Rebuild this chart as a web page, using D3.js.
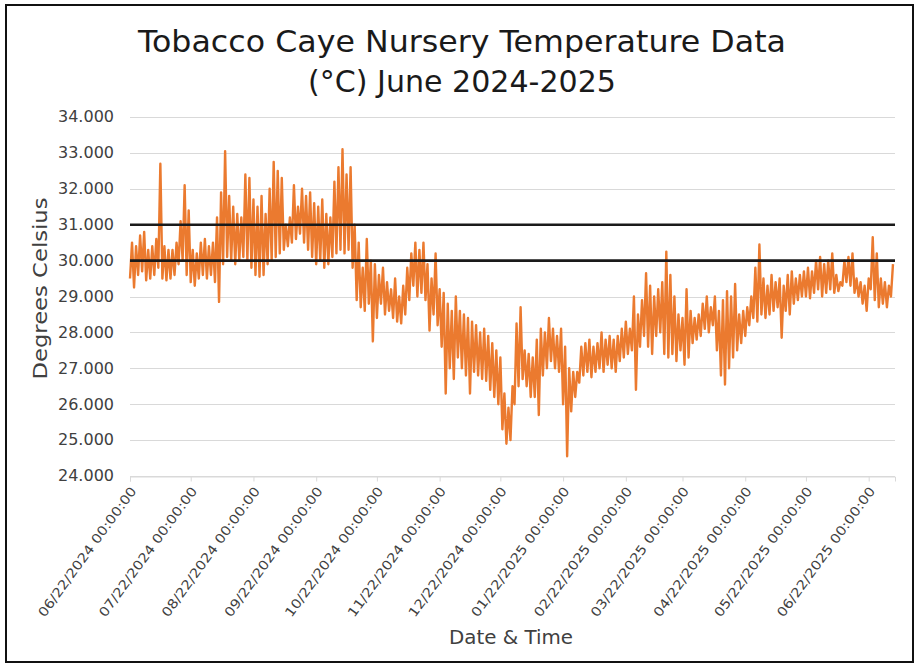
<!DOCTYPE html>
<html>
<head>
<meta charset="utf-8">
<script src="https://cdn.jsdelivr.net/npm/d3@7"></script>
<style>
  body { margin: 0; background: #fff; }
  svg text { font-family: "DejaVu Sans", "Noto Sans", sans-serif; }
</style>
</head>
<body>
<svg id="chart" width="919" height="666"></svg>
<script>
// Logger record: one low and one high reading per two-day block, from 22 Jun 2024
const startDate = "2024-06-22";
const endDate = "2025-07-05";

const lows = [
  29.5, 29.25, 29.6, 29.7, 29.45, 29.5, 29.6, 29.8, 29.5, 29.45,
  29.5, 29.6, 29.9, 30.0, 29.6, 29.4, 29.3, 29.5, 29.6, 29.5,
  29.6, 29.4, 28.85, 29.9, 30.1, 30.0, 29.9, 30.0, 30.1, 30.0,
  29.8, 29.6, 29.55, 29.6, 29.9, 30.0, 30.1, 30.2, 30.3, 30.4,
  30.5, 30.6, 30.75, 30.5, 30.3, 30.1, 29.9, 30.0, 29.8, 29.9,
  30.1, 30.2, 30.3, 30.2, 30.3, 29.8, 28.9, 28.7, 28.6, 28.8,
  27.75, 28.4, 28.8, 28.5, 28.6, 28.4, 28.3, 28.25, 28.5, 28.9,
  29.3, 29.0, 29.1, 28.9, 28.05, 28.5, 28.2, 27.6, 26.3, 27.0,
  26.7, 27.3, 27.0, 26.8, 26.3, 26.9, 26.8, 26.7, 26.65, 26.4,
  26.2, 26.0, 25.3, 24.9, 25.0, 26.0, 26.5, 26.7, 26.5, 26.2,
  26.2, 25.7, 26.8, 27.0, 27.2, 27.0, 26.9, 26.0, 24.55, 25.8,
  26.2, 26.6, 26.8, 26.9, 26.75, 26.9, 27.0, 26.9, 27.1, 27.0,
  26.9, 27.2, 27.3, 27.4, 27.5, 26.4, 27.6, 27.9, 27.6, 27.4,
  27.9, 28.0, 27.4, 27.3, 27.4, 27.2, 27.5, 27.1, 27.3, 27.7,
  27.8, 27.9, 28.1, 28.0, 28.2, 27.5, 26.8, 26.55, 27.0, 27.3,
  27.5, 27.7, 27.9, 28.2, 28.4, 28.3, 28.5, 28.4, 28.5, 28.6,
  28.7, 27.85, 28.6, 28.5, 28.8, 28.9, 29.0, 29.0, 28.95, 29.1,
  29.2, 29.0, 29.1, 29.2, 29.1, 29.15, 29.3, 29.4, 29.3, 29.1,
  29.0, 28.8, 28.6, 29.2, 28.9, 28.7, 28.8, 28.7, 29.0
];

const highs = [
  30.5, 30.4, 30.7, 30.8, 30.3, 30.4, 30.6, 32.7, 30.4, 30.3,
  30.3, 30.5, 31.1, 32.1, 31.4, 30.3, 30.2, 30.5, 30.6, 30.4,
  30.5, 31.2, 31.9, 33.05, 31.8, 31.5, 31.3, 31.2, 32.4, 32.3,
  31.7, 31.5, 31.8, 31.3, 32.0, 32.75, 32.5, 32.3, 31.0, 31.2,
  32.1, 31.5, 32.0, 31.8, 31.9, 31.6, 31.5, 31.7, 31.3, 31.2,
  32.2, 32.6, 33.1, 32.4, 32.6, 31.0, 30.5, 29.8, 30.6, 30.0,
  29.9, 29.6, 29.8, 29.4, 29.2, 29.5, 29.0, 29.3, 29.8, 30.2,
  30.5, 30.3, 30.5, 29.9, 29.5, 30.2, 29.2, 29.1, 28.8, 28.6,
  29.0, 28.6, 28.5, 28.4, 28.3, 28.2, 28.0, 28.1, 27.9, 27.7,
  27.5, 27.3, 26.3, 25.9, 26.5, 28.25, 28.7, 27.5, 27.4, 27.3,
  27.8, 28.1, 28.0, 28.4, 28.1, 27.9, 28.1, 27.6, 27.0, 26.9,
  26.9, 27.6, 27.7, 27.8, 27.6, 27.7, 28.0, 27.8, 27.9, 27.8,
  27.9, 28.1, 28.3, 28.1, 29.0, 28.5, 28.9, 29.65, 29.3, 29.0,
  29.2, 29.4, 30.25, 29.6, 29.0, 28.5, 28.4, 29.2, 28.6, 28.4,
  28.5, 28.8, 29.0, 28.7, 29.0, 28.6, 28.9, 29.15, 29.0, 29.35,
  28.5, 28.6, 28.7, 29.0, 29.8, 30.45, 29.5, 29.3, 29.6, 29.4,
  29.5, 29.3, 29.6, 29.7, 29.5, 29.6, 29.7, 29.8, 29.7, 30.0,
  30.1, 29.9, 30.0, 30.2, 29.6, 29.4, 30.0, 30.1, 30.2, 29.5,
  29.4, 29.3, 29.5, 30.65, 30.2, 29.5, 29.4, 29.3, 29.9
];

// Reference levels drawn as black rules
const thresholds = [31, 30];

const yTicks = [24, 25, 26, 27, 28, 29, 30, 31, 32, 33, 34];

const xTickLabels = [
  "06/22/2024 00:00:00", "07/22/2024 00:00:00", "08/22/2024 00:00:00",
  "09/22/2024 00:00:00", "10/22/2024 00:00:00", "11/22/2024 00:00:00",
  "12/22/2024 00:00:00", "01/22/2025 00:00:00", "02/22/2025 00:00:00",
  "03/22/2025 00:00:00", "04/22/2025 00:00:00", "05/22/2025 00:00:00",
  "06/22/2025 00:00:00"
];

const titleLines = ["Tobacco Caye Nursery Temperature Data", "(°C) June 2024-2025"];
const yTitle = "Degrees Celsius";
const xTitle = "Date & Time";

// ---- layout ----
const W = 919, H = 666;
const plot = { left: 130, right: 895, top: 117, bottom: 476 };

const svg = d3.select("#chart");
const parseISO = d3.timeParse("%Y-%m-%d");
const parseTick = d3.timeParse("%m/%d/%Y %H:%M:%S");

const x = d3.scaleTime()
  .domain([parseISO(startDate), parseISO(endDate)])
  .range([plot.left, plot.right]);

const y = d3.scaleLinear()
  .domain([24, 34])
  .range([plot.bottom, plot.top]);

// background and frame
svg.append("rect").attr("x", 0).attr("y", 0).attr("width", W).attr("height", H).attr("fill", "#fff");
svg.append("rect")
  .attr("x", 6).attr("y", 5).attr("width", W - 12).attr("height", H - 9)
  .attr("fill", "none").attr("stroke", "#111").attr("stroke-width", 2);

// horizontal gridlines
svg.append("g").selectAll("line").data(yTicks).join("line")
  .attr("x1", plot.left).attr("x2", plot.right)
  .attr("y1", d => Math.round(y(d)) + 0.5).attr("y2", d => Math.round(y(d)) + 0.5)
  .attr("stroke", "#d9d9d9").attr("stroke-width", 1);

// y axis labels
const yAxis = d3.axisLeft(y).tickValues(yTicks).tickFormat(d3.format(".3f")).tickSize(0).tickPadding(0);
const gy = svg.append("g").attr("transform", `translate(${plot.left - 16},0)`).call(yAxis);
gy.select(".domain").remove();
gy.selectAll("text")
  .attr("fill", "#404040").attr("font-size", 15)
  .attr("textLength", 56).attr("lengthAdjust", "spacingAndGlyphs");

// x axis: month ticks on the 22nd
const tickDates = xTickLabels.map(parseTick);
const xAxis = d3.axisBottom(x).tickValues(tickDates).tickSize(5).tickFormat("");
const gx = svg.append("g").attr("transform", `translate(0,${Math.round(plot.bottom) + 0.5})`).call(xAxis);
gx.select(".domain").attr("stroke", "#d9d9d9");
gx.selectAll(".tick line").attr("stroke", "#d9d9d9");

svg.append("g").selectAll("text").data(xTickLabels).join("text")
  .attr("transform", d => `translate(${x(parseTick(d)) + 7},${plot.bottom + 15}) rotate(-54)`)
  .attr("text-anchor", "end")
  .attr("fill", "#404040")
  .attr("font-size", 13)
  .attr("textLength", 157).attr("lengthAdjust", "spacingAndGlyphs")
  .text(d => d);

// temperature trace: low then high for each two-day block
const readings = [];
lows.forEach((lo, i) => {
  readings.push({ date: d3.timeDay.offset(parseISO(startDate), 2 * i), v: lo });
  readings.push({ date: d3.timeDay.offset(parseISO(startDate), 2 * i + 1), v: highs[i] });
});

const line = d3.line().x(d => x(d.date)).y(d => y(d.v));
svg.append("path")
  .datum(readings)
  .attr("d", line)
  .attr("fill", "none")
  .attr("stroke", "#EB7A2F")
  .attr("stroke-width", 2.4)
  .attr("stroke-linejoin", "round");

// threshold rules
svg.append("g").selectAll("line").data(thresholds).join("line")
  .attr("x1", plot.left).attr("x2", plot.right)
  .attr("y1", d => y(d)).attr("y2", d => y(d))
  .attr("stroke", "#1a1a1a").attr("stroke-width", 2.6);

// titles
const title = svg.append("g").attr("fill", "#1a1a1a");
title.append("text")
  .attr("x", 462).attr("y", 52).attr("text-anchor", "middle")
  .attr("font-size", 31)
  .attr("textLength", 648).attr("lengthAdjust", "spacingAndGlyphs")
  .text(titleLines[0]);
title.append("text")
  .attr("x", 462).attr("y", 92).attr("text-anchor", "middle")
  .attr("font-size", 31)
  .attr("textLength", 308).attr("lengthAdjust", "spacingAndGlyphs")
  .text(titleLines[1]);

svg.append("text")
  .attr("transform", `translate(47,${(plot.top + plot.bottom) / 2 - 8}) rotate(-90)`)
  .attr("text-anchor", "middle")
  .attr("fill", "#404040").attr("font-size", 19)
  .attr("textLength", 182).attr("lengthAdjust", "spacingAndGlyphs")
  .text(yTitle);

svg.append("text")
  .attr("x", 511).attr("y", 644).attr("text-anchor", "middle")
  .attr("fill", "#404040").attr("font-size", 19)
  .attr("textLength", 124).attr("lengthAdjust", "spacingAndGlyphs")
  .text(xTitle);
</script>
</body>
</html>
